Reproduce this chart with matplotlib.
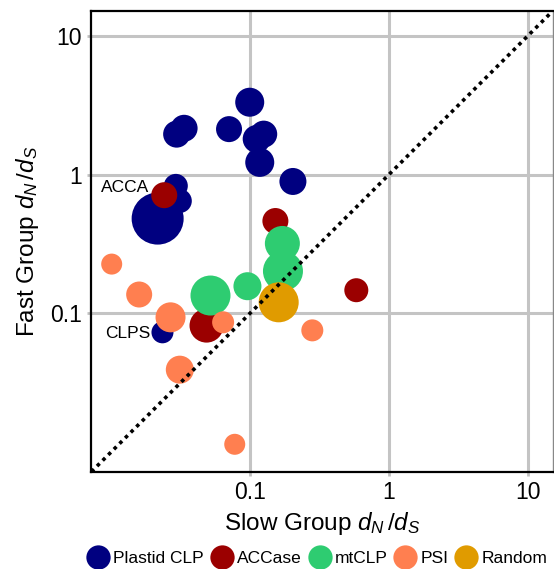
import numpy as np
import matplotlib
matplotlib.use("Agg")
import matplotlib.pyplot as plt
from matplotlib.lines import Line2D

plt.rcParams['font.family'] = ['Liberation Sans', 'DejaVu Sans']
plt.rcParams['mathtext.fontset'] = 'custom'
plt.rcParams['mathtext.rm'] = 'Liberation Sans'
plt.rcParams['mathtext.it'] = 'Liberation Sans:italic'

# slow group dN/dS, fast group dN/dS, bubble diameter (px)
plastid_x = [0.0995, 0.0296, 0.0335, 0.0706, 0.1117, 0.1255, 0.1175, 0.2037, 0.0292, 0.0312, 0.0216, 0.0234]
plastid_y = [3.33, 1.96, 2.16, 2.13, 1.81, 1.96, 1.226, 0.893, 0.830, 0.646, 0.482, 0.0729]
plastid_d = [29, 27, 27, 26, 28, 27, 29, 27, 24, 24, 52, 22]

accase_x = [0.0241, 0.1523, 0.583, 0.0486]
accase_y = [0.711, 0.463, 0.1467, 0.0815]
accase_d = [26, 26, 24, 34]

mtclp_x = [0.171, 0.1727, 0.0519, 0.0958]
mtclp_y = [0.319, 0.2014, 0.1343, 0.1568]
mtclp_d = [35, 40, 40, 28]

psi_x = [0.01008, 0.0159, 0.02675, 0.064, 0.281, 0.0312, 0.0776]
psi_y = [0.2264, 0.1366, 0.0935, 0.0861, 0.0753, 0.0392, 0.01135]
psi_d = [21, 26, 30, 22, 22, 28, 21]

random_x = [0.1609]
random_y = [0.120]
random_d = [40]

groups = [
    ("Plastid CLP", plastid_x, plastid_y, plastid_d, "#000080"),
    ("ACCase", accase_x, accase_y, accase_d, "#9b0000"),
    ("mtCLP", mtclp_x, mtclp_y, mtclp_d, "#2ecc71"),
    ("PSI", psi_x, psi_y, psi_d, "#ff7f50"),
    ("Random", random_x, random_y, random_d, "#e09b00"),
]

lo, hi = 0.0072, 15.2

fig = plt.figure(figsize=(5.54, 5.69), dpi=100)
ax = fig.add_axes([0.165, 0.171, 0.833, 0.810])

for name, xs, ys, ds, col in groups:
    s = (np.array(ds) * 0.72) ** 2
    ax.scatter(xs, ys, s=s, color=col, edgecolors='none', zorder=3)

# y = x reference line
ax.plot([lo, hi], [lo, hi], color='black', lw=2.6, linestyle=(0, (1, 1.2)), zorder=5)

ax.set_xscale('log')
ax.set_yscale('log')
ax.set_xlim(lo, hi)
ax.set_ylim(lo, hi)
ticks = [0.1, 1, 10]
labels = ['0.1', '1', '10']
ax.set_xticks(ticks)
ax.set_xticklabels(labels)
ax.set_yticks(ticks)
ax.set_yticklabels(labels)
ax.minorticks_off()
ax.tick_params(axis='both', length=3, width=2, color='#c0c0c0', labelsize=16.5, pad=4)

ax.grid(True, color='#c4c4c4', lw=2.2, zorder=0)
ax.set_axisbelow(True)

for side in ['left', 'bottom', 'top']:
    ax.spines[side].set_color('black')
    ax.spines[side].set_linewidth(1.6)
ax.spines['right'].set_color('#888888')
ax.spines['right'].set_linewidth(1.0)

ax.text(0.0187, 0.812, 'ACCA', fontsize=12.5, ha='right', va='center', zorder=4)
ax.text(0.0190, 0.0713, 'CLPS', fontsize=12.5, ha='right', va='center', zorder=4)

ax.set_xlabel(r'Slow Group $d_N\,/d_S$', fontsize=17.5, labelpad=4)
ax.set_ylabel(r'Fast Group $d_N\,/d_S$', fontsize=17.5, labelpad=6)

handles = [Line2D([], [], marker='o', linestyle='none', markersize=17.5,
                  markerfacecolor=col, markeredgecolor='none', label=name)
           for name, xs, ys, ds, col in groups]
fig.legend(handles=handles, loc='center', bbox_to_anchor=(0.573, 0.019), ncol=5,
           frameon=False, fontsize=12.5, handlelength=1.2, handletextpad=0.25,
           columnspacing=0.45, borderpad=0, borderaxespad=0)

fig.savefig('out.png', dpi=100)
